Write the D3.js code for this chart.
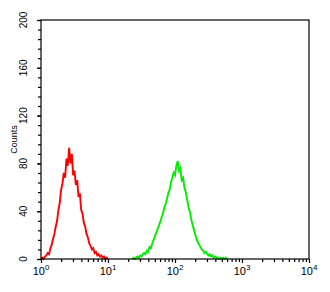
<!DOCTYPE html>
<html>
<head>
<meta charset="utf-8">
<script src="https://cdn.jsdelivr.net/npm/d3@7"></script>
<style>
  body { margin: 0; background: #fff; }
  text { font-family: "Liberation Sans", Arial, sans-serif; }
</style>
</head>
<body>
<div class="canvas"></div>
<script>
// log10 of fluorescence intensity for each histogram channel, and counts
const redLogFL = [0.00,0.02,0.04,0.06,0.08,0.10,0.12,0.14,0.16,0.18,0.20,0.22,0.24,0.26,0.28,0.30,0.32,0.34,0.36,0.38,0.40,0.42,0.44,0.46,0.48,0.50,0.52,0.54,0.56,0.58,0.60,0.62,0.64,0.66,0.68,0.70,0.72,0.74,0.76,0.78,0.80,0.82,0.84,0.86,0.88,0.90,0.92,0.94,0.96,0.98,1.00];
const redCounts = [0,1,0,2,3,5,4,9,12,17,21,27,32,41,47,58,63,72,68,84,78,93,80,88,70,74,62,66,52,55,41,38,30,27,21,18,13,11,8,9,5,6,3,4,2,3,1,2,0,1,0];

const greenLogFL = [1.36,1.38,1.40,1.42,1.44,1.46,1.48,1.50,1.52,1.54,1.56,1.58,1.60,1.62,1.64,1.66,1.68,1.70,1.72,1.74,1.76,1.78,1.80,1.82,1.84,1.86,1.88,1.90,1.92,1.94,1.96,1.98,2.00,2.02,2.04,2.06,2.08,2.10,2.12,2.14,2.16,2.18,2.20,2.22,2.24,2.26,2.28,2.30,2.32,2.34,2.36,2.38,2.40,2.42,2.44,2.46,2.48,2.50,2.52,2.54,2.56,2.58,2.60,2.62,2.64,2.66,2.68,2.70,2.72,2.74,2.76,2.78];
const greenCounts = [0,1,0,1,2,1,3,2,4,5,4,7,6,10,9,13,16,19,22,25,28,31,35,38,43,46,50,55,58,64,68,72,70,78,82,74,76,66,68,60,56,50,44,40,34,29,25,21,17,14,12,10,8,7,5,6,4,3,4,2,3,1,2,1,1,0,1,0,1,0,1,0];

const xDecades = [1, 10, 100, 1000, 10000];
const yTicks = [0, 40, 80, 120, 160, 200];

const margin = { top: 20, right: 21, bottom: 33, left: 41 };
const width = 330, height = 292;
const graphWidth = width - margin.left - margin.right;
const graphHeight = height - margin.top - margin.bottom;

const svg = d3.select('.canvas')
  .append('svg')
  .attr('width', width)
  .attr('height', height);

const graph = svg.append('g')
  .attr('transform', `translate(${margin.left},${margin.top})`);

// scales
const x = d3.scaleLog().domain([1, 10000]).range([0, graphWidth]);
const y = d3.scaleLinear().domain([0, 200]).range([graphHeight, 0]);

// histograms
const line = d3.line()
  .x(d => x(Math.pow(10, d[0])))
  .y(d => y(d[1]));

graph.append('path')
  .datum(redLogFL.map((v, i) => [v, redCounts[i]]))
  .attr('fill', 'none')
  .attr('stroke', '#ff0000')
  .attr('stroke-width', 1.9)
  .attr('d', line);

graph.append('path')
  .datum(greenLogFL.map((v, i) => [v, greenCounts[i]]))
  .attr('fill', 'none')
  .attr('stroke', '#00ee00')
  .attr('stroke-width', 1.9)
  .attr('d', line);

// frame
graph.append('rect')
  .attr('width', graphWidth)
  .attr('height', graphHeight)
  .attr('fill', 'none')
  .attr('stroke', '#000')
  .attr('stroke-width', 1.2);

// x axis: decade ticks plus minor ticks
const xMinor = [];
xDecades.slice(0, -1).forEach(d => { for (let k = 2; k < 10; k++) xMinor.push(d * k); });

const xAxisGroup = graph.append('g')
  .attr('transform', `translate(0,${graphHeight})`);

xAxisGroup.call(d3.axisBottom(x).tickValues(xMinor).tickSize(3).tickFormat(''));
xAxisGroup.append('g').call(d3.axisBottom(x).tickValues(xDecades).tickSize(4).tickFormat(''));
xAxisGroup.selectAll('.domain').remove();
xAxisGroup.selectAll('line').attr('stroke', '#000').attr('stroke-width', 1.2);

const xLabels = xAxisGroup.selectAll('.xlab')
  .data(xDecades)
  .enter()
  .append('text')
  .attr('class', 'xlab')
  .attr('x', d => x(d))
  .attr('y', 16)
  .attr('text-anchor', 'middle')
  .attr('font-size', 11)
  .attr('fill', '#000');
xLabels.append('tspan').text('10');
xLabels.append('tspan')
  .attr('dy', -5)
  .attr('font-size', 8)
  .text(d => Math.round(Math.log10(d)));

// y axis: ticks every 8 counts, labelled every 40
const yMinor = d3.range(0, 201, 8);
const yAxisGroup = graph.append('g');
yAxisGroup.call(d3.axisLeft(y).tickValues(yMinor).tickSize(3).tickFormat(''));
yAxisGroup.append('g').call(d3.axisLeft(y).tickValues(yTicks).tickSize(4).tickFormat(''));
yAxisGroup.selectAll('.domain').remove();
yAxisGroup.selectAll('line').attr('stroke', '#000').attr('stroke-width', 1.2);

yAxisGroup.selectAll('.ylab')
  .data(yTicks)
  .enter()
  .append('text')
  .attr('class', 'ylab')
  .attr('transform', d => `translate(-14,${y(d)}) rotate(-90)`)
  .attr('text-anchor', 'middle')
  .attr('font-size', 10)
  .attr('fill', '#000')
  .text(d => d);

svg.append('text')
  .attr('transform', `translate(17,${margin.top + graphHeight / 2}) rotate(-90)`)
  .attr('text-anchor', 'middle')
  .attr('font-size', 9)
  .attr('fill', '#000')
  .text('Counts');
</script>
</body>
</html>
